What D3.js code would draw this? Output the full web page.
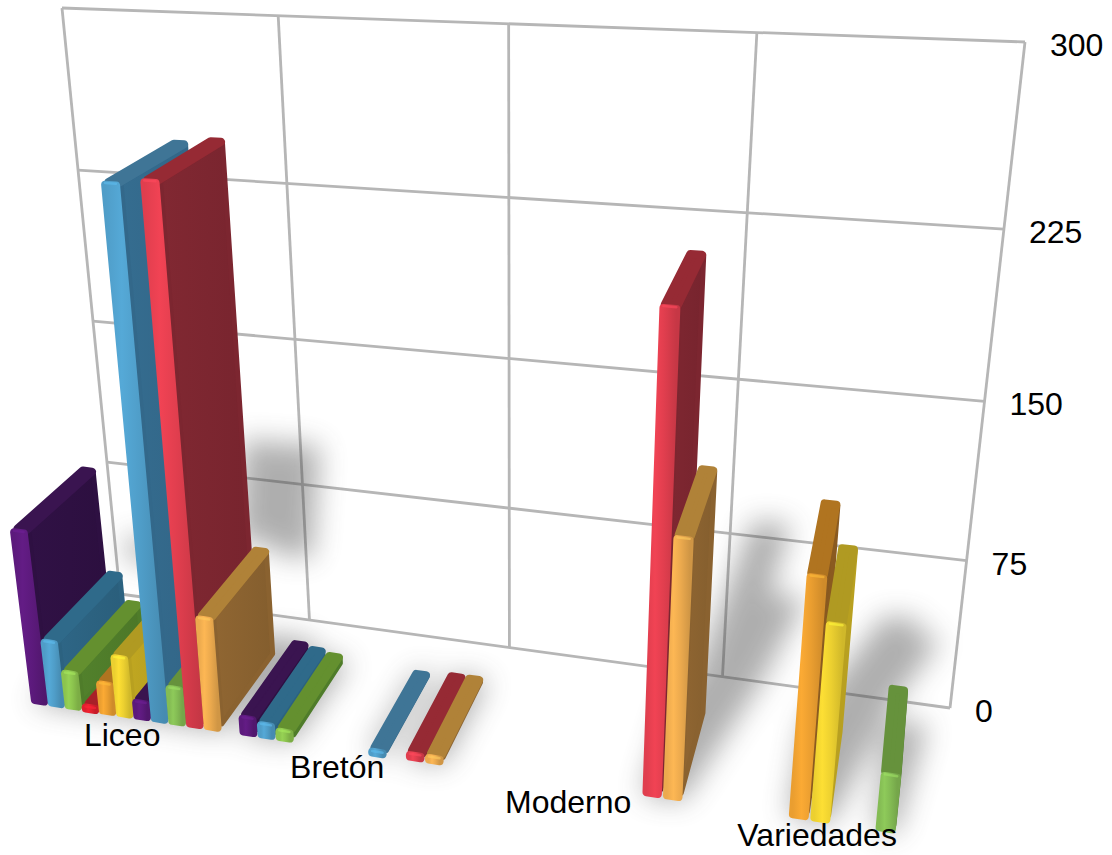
<!DOCTYPE html>
<html><head><meta charset="utf-8">
<script src="https://cdn.jsdelivr.net/npm/d3@7"></script>
<style>html,body{margin:0;background:#fff}text{font-family:"Liberation Sans",Arial,sans-serif;font-size:32px;fill:#000}</style>
</head><body><div id="c"></div><script>
const categories=["Liceo","Bretón","Moderno","Variedades"];
const yTicks=[0,75,150,225,300];
const seriesIds=[0,1,2,3,4,5,6,7,8,9,10];
const liceo=[90,35,20,3,17,32,10,252,20,254,58];
const breton=[10,8,6,0,0,0,0,2,0,4,4];
const moderno=[0,0,0,0,0,0,0,0,0,218,123];
const variedades=[0,0,0,0,113,93,0,0,28,0,0];
const rows=[liceo,breton,moderno,variedades];
const frontColors=["#5c1a7c","#4f9dc8","#8cc44e","#e0202e","#ea9e30","#ecd030","#5c1a7c","#4f9dc8","#84bc54","#e03e4e","#ecaa4e"];
const sideColors=["#2e1042","#2c6280","#4f7c2a","#7a1820","#8a5a20","#b8a020","#2e1042","#33688a","#507a30","#7c2630","#8a6230"];
const topColors=["#3a1450","#2f6a8a","#64902f","#a82028","#b07420","#b09a22","#3a1450","#3f7596","#66923c","#962a34","#b08238"];
const labelDy=[29,29,29,24];

const W=1112,H=855;
const svg=d3.select("#c").append("svg").attr("width",W).attr("height",H).style("display","block");
const defs=svg.append("defs");

// perspective camera: wall corners and depth vanishing point
const TL=[62,8],TR=[1025,42],BR=[950,708],BL=[120,594],VZ=[985,-330],FRONT_X=20;
function homography(p00,p10,p11,p01){
  const [x0,y0]=p00,[x1,y1]=p10,[x2,y2]=p11,[x3,y3]=p01;
  const dx1=x1-x2,dx2=x3-x2,sx=x0-x1+x2-x3,dy1=y1-y2,dy2=y3-y2,sy=y0-y1+y2-y3;
  const d=dx1*dy2-dx2*dy1,g=(sx*dy2-dx2*sy)/d,h=(dx1*sy-sx*dy1)/d;
  return {a:[x1-x0+g*x1,x3-x0+h*x3,x0],b:[y1-y0+g*y1,y3-y0+h*y3,y0],c:[g,h,1]};
}
const M=homography(BL,BR,TR,TL);
const cz=(M.a[2]-FRONT_X*M.c[2])/(FRONT_X-VZ[0]);
function project(u,v,w){
  const X=M.a[0]*u+M.a[1]*v+M.a[2]+cz*VZ[0]*w;
  const Y=M.b[0]*u+M.b[1]*v+M.b[2]+cz*VZ[1]*w;
  const Z=M.c[0]*u+M.c[1]*v+M.c[2]+cz*w;
  return [X/Z,Y/Z];
}
const y=d3.scaleLinear().domain([0,300]).range([0,1]);
const xCat=d3.scaleBand().domain(categories).range([0.004,1.006]).paddingInner(1/12).paddingOuter(0.5/12);
const xSer=d3.scaleBand().domain(seriesIds).range([0,xCat.bandwidth()]).paddingInner(0.04).paddingOuter(0.02);
const frontW=u=>1-0.045*u, DEPTH=0.66;
const line=d3.line();

// grid
const gridU=[0,.253,.503,.752,1];
const grid=svg.append("g").attr("fill","none").attr("stroke","#b6b6b6").attr("stroke-width",2.8);
yTicks.forEach(t=>grid.append("path").attr("d",line([project(0,y(t),0),project(1,y(t),0)])));
gridU.forEach(u=>grid.append("path").attr("d",line([project(u,0,0),project(u,1,0)])));

// shadows
defs.append("filter").attr("id","blur").attr("x","-20%").attr("y","-20%").attr("width","140%").attr("height","140%")
  .append("feGaussianBlur").attr("stdDeviation",14);
const shadow=svg.append("g").attr("filter","url(#blur)").attr("opacity",0.43);
const bars=[];
rows.forEach((r,ci)=>r.forEach((val,si)=>{ if(val>0) bars.push({cat:categories[ci],si,val,
  u0:xCat(categories[ci])+xSer(si),u1:xCat(categories[ci])+xSer(si)+xSer.bandwidth()});}));
bars.forEach(b=>{
  const fw=frontW(b.u0),bw=fw-DEPTH;
  const reach=Math.min(1,b.val/60);
  const dU=Math.min(0.06,Math.max(0,0.15*b.u1-0.01));
  const pts=[[b.u0,fw],[b.u1,fw],[b.u1,bw],[b.u0,bw]].map(p=>project(p[0],0,p[1]));
  const endW=bw*(1-reach*Math.min(1,b.u1*2));
  pts.push(project(b.u0+dU*.3*reach,0,endW),project(b.u1+.03*reach+dU*.35*reach,0,endW));
  shadow.append("path").attr("d",line(d3.polygonHull(pts))+"Z").attr("fill","#444");
  if(b.val>=60){
    const h=y(b.val*.38),h0=y(b.val*.25*Math.max(0,1-b.u1*2));
    const a=b.u0+dU*.3,c=b.u1+.03+dU*.35;
    const wp=[project(a,h0,0),project(c,h0,0),project(c+dU*.7,h,0),project(a+dU*.9,h,0)];
    shadow.append("path").attr("d",line(d3.polygonHull(wp))+"Z").attr("fill","#444");
  }
});

// gradients
seriesIds.forEach(i=>{
  const c=d3.color(frontColors[i]);
  const g=defs.append("linearGradient").attr("id","f"+i);
  [[0,c],[.28,c.brighter(.2)],[.6,c],[1,c.darker(.35)]].forEach(([o,k])=>g.append("stop").attr("offset",o).attr("stop-color",k));
  const s=d3.color(sideColors[i]);
  const g2=defs.append("linearGradient").attr("id","s"+i);
  [[0,s.brighter(.12)],[.5,s],[1,s.darker(.12)]].forEach(([o,k])=>g2.append("stop").attr("offset",o).attr("stop-color",k));
});

// bars
const gBars=svg.append("g").attr("stroke-linejoin","round");
const quad=pts=>line(pts)+"Z";
gBars.selectAll("g").data(bars).join("g").each(function(b){
  const g=d3.select(this),v=y(b.val);
  const A=project,fw=frontW(b.u0),bw=fw-DEPTH;
  const bandU=b.u1-b.u0,ue=bandU*0.21,us=bandU*0.13,ve=Math.min(v*.4,0.0055),we=0.03;
  g.append("path").attr("d",quad([A(b.u1-us,ve,fw-we),A(b.u1-us,ve,bw+we),A(b.u1-us,v-ve,bw+we),A(b.u1-us,v-ve,fw-we)]))
    .attr("fill",`url(#s${b.si})`).attr("stroke",sideColors[b.si]).attr("stroke-width",5);
  g.append("path").attr("d",quad([A(b.u0+ue,v-ve*.8,fw-we),A(b.u1-ue,v-ve*.8,fw-we),A(b.u1-ue,v-ve*.8,bw+we),A(b.u0+ue,v-ve*.8,bw+we)]))
    .attr("fill",topColors[b.si]).attr("stroke",topColors[b.si]).attr("stroke-width",8);
  g.append("path").attr("d",quad([A(b.u0+ue,ve,fw),A(b.u1-ue,ve,fw),A(b.u1-ue,v-ve,fw),A(b.u0+ue,v-ve,fw)]))
    .attr("fill",`url(#f${b.si})`).attr("stroke",`url(#f${b.si})`).attr("stroke-width",8);
  g.append("path").attr("d",line([A(b.u0+ue,v-ve*.55,fw),A(b.u1-ue,v-ve*.55,fw)]))
    .attr("stroke",d3.color(frontColors[b.si]).brighter(.5)).attr("stroke-width",2.5).attr("stroke-linecap","round").attr("opacity",.6).attr("fill","none");
});

// value labels
svg.append("g").selectAll("text").data(yTicks).join("text")
  .attr("x",t=>project(1,y(t),0)[0]+25).attr("y",t=>project(1,y(t),0)[1]+14).text(t=>t);
// category labels
const catFront=c=>{const u=xCat(c)+xCat.bandwidth()/2;return project(u,0,frontW(u));};
svg.append("g").selectAll("text").data(categories).join("text").attr("text-anchor","middle")
  .attr("x",c=>catFront(c)[0]-3)
  .attr("y",(c,i)=>catFront(c)[1]+labelDy[i]).text(c=>c);
</script></body></html>
